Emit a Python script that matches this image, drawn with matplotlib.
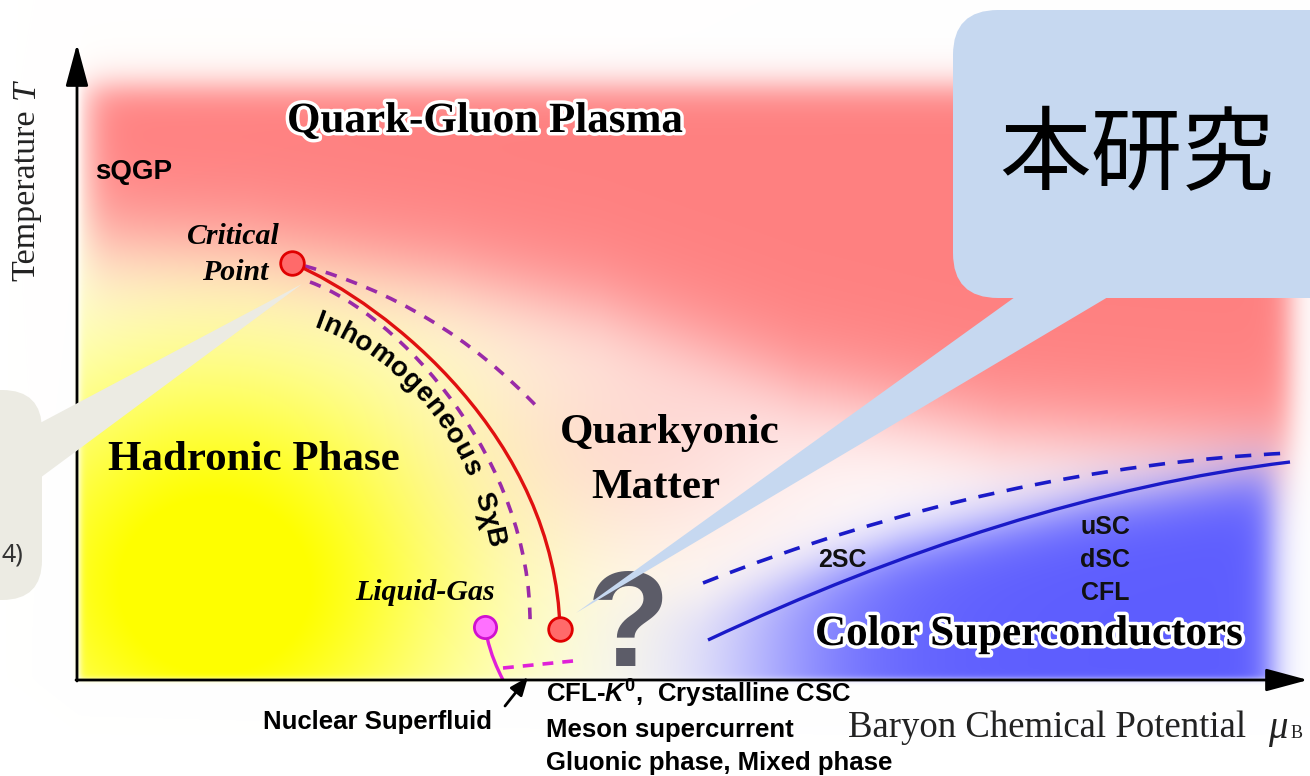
import numpy as np
import matplotlib
matplotlib.use("Agg")
import matplotlib.pyplot as plt
from matplotlib.path import Path
from matplotlib.patches import PathPatch, FancyBboxPatch, Polygon
import matplotlib.patheffects as pe
from matplotlib.textpath import TextToPath
from matplotlib.font_manager import FontProperties

plt.rcParams['mathtext.fontset'] = 'custom'
plt.rcParams['mathtext.rm'] = 'Liberation Sans:bold'
plt.rcParams['mathtext.it'] = 'Liberation Sans:italic:bold'
plt.rcParams['mathtext.bf'] = 'Liberation Sans:bold'

W, H = 1310, 776

# diagram geometry (pixel coordinates, y pointing down)
red_line = [(292, 263), (390, 305), (555, 440), (560, 629)]
inner_dash = [(310, 282), (400, 315), (532, 460), (530, 625)]
outer_dash = [(305, 266), (390, 290), (470, 335), (540, 410)]
lg_line = [(487, 637), (491, 655), (497, 668), (503, 680)]
csc_dash = [(703, 583), (900, 505), (1100, 462), (1290, 453)]
csc_solid = [(708, 640), (900, 550), (1100, 485), (1290, 462)]
sf_dash_x = [503, 573]
sf_dash_y = [668, 661]
sxb_path = [(316, 318), (402, 348), (484, 430), (502, 570)]

red_pts_x = [292, 560]
red_pts_y = [263, 629]
lg_pt = (485, 627)

csc_labels = ['uSC', 'dSC', 'CFL']
csc_label_y = [527, 560, 593]
low_labels = ['CFL-$K^0$,  Crystalline CSC', 'Meson supercurrent', 'Gluonic phase, Mixed phase']
low_label_y = [694, 730, 763]

blue_box = (953, 10, 420, 288)
blue_tail = [(1015, 297), (1108, 297), (576, 613)]
gray_box = (-60, 390, 102, 210)
gray_tail = [(40, 423), (40, 478), (302, 284)]


def sig(z):
    return 1.0 / (1.0 + np.exp(-z))


def over(img, col, a):
    a = np.clip(a, 0, 1)[..., None]
    return img * (1 - a) + np.array(col) / 255.0 * a


# background colour field
yy, xx = np.mgrid[0:H, 0:W] + 0.5
inside = sig((xx - 80) / 2) * sig((679 - yy) / 1.5)
img = np.ones((H, W, 3))
a_y = np.clip(1.15 * np.exp(-((xx - 215) / 255) ** 2 - ((yy - 585) / 235) ** 2), 0, 1) * inside
img = over(img, (255, 255, 0), a_y)
yb = np.interp(xx, [80, 250, 450, 600, 800, 1000, 1300], [240, 250, 280, 315, 390, 432, 455])
a_r = sig((yy - 86) / 10) * sig((xx - 88) / 10) * sig((yb - yy) / 28) * sig((1290 - xx) / 8) * inside
img = over(img, (255, 128, 128), a_r)
a_p = 0.32 * np.exp(-((xx - 640) / 170) ** 2 - ((yy - 440) / 120) ** 2) * inside
img = over(img, (255, 150, 150), a_p)
yblue = np.interp(xx, [700, 900, 1100, 1290], [605, 545, 500, 468])
a_b = 0.95 * sig((xx - 770) / 55) * sig((1272 - xx) / 9) * sig((yy - yblue) / 16) * inside
img = over(img, (85, 85, 255), a_b)

fig = plt.figure(figsize=(W / 100, H / 100), dpi=100)
ax = fig.add_axes([0, 0, 1, 1])
ax.set_xlim(0, W)
ax.set_ylim(H, 0)
ax.axis('off')
ax.imshow(img, extent=(0, W, H, 0), zorder=0, interpolation='bilinear')


def bezier(pts, **kw):
    codes = [Path.MOVETO, Path.CURVE4, Path.CURVE4, Path.CURVE4]
    ax.add_patch(PathPatch(Path(pts, codes), fill=False, capstyle='butt', **kw))


bezier(outer_dash, ec='#9a2aa8', lw=2.6, ls=(0, (3.2, 2.8)), zorder=3)
bezier(inner_dash, ec='#9a2aa8', lw=2.6, ls=(0, (3.2, 2.8)), zorder=3)
bezier(red_line, ec='#e01010', lw=2.4, zorder=4)
bezier(lg_line, ec='#e020d8', lw=2.4, zorder=4)
ax.plot(sf_dash_x, sf_dash_y, color='#e020d8', lw=2.6, ls=(0, (3, 2.5)), zorder=3)
bezier(csc_dash, ec='#1a1ac8', lw=2.6, ls=(0, (4.5, 3.5)), zorder=3)
bezier(csc_solid, ec='#1a1ac8', lw=2.4, zorder=3)

ax.plot(red_pts_x, red_pts_y, 'o', ms=17, mfc='#ff6a6a', mec='#e00000', mew=2, zorder=5)
ax.plot(*lg_pt, 'o', ms=16, mfc='#ff70ff', mec='#d010d0', mew=2, zorder=5)

# axes arrows
arr = dict(arrowstyle='-|>,head_length=2.6,head_width=0.7', lw=2, color='black', shrinkA=0, shrinkB=0)
ax.annotate('', xy=(77, 44), xytext=(77, 681), arrowprops=arr, zorder=6)
ax.annotate('', xy=(1308, 680), xytext=(76, 680), arrowprops=arr, zorder=6)
ax.annotate('', xy=(528, 677), xytext=(505, 706),
            arrowprops=dict(arrowstyle='-|>,head_length=1.1,head_width=0.45', lw=2,
                            color='black', shrinkA=0, shrinkB=0), zorder=6)

serif = 'Liberation Serif'
sans = 'Liberation Sans'
halo = [pe.withStroke(linewidth=5, foreground='white')]

ax.text(287, 122, 'Quark-Gluon Plasma', family=serif, weight='bold', size=31,
        va='center', ha='left', path_effects=halo, zorder=7)
ax.text(95, 172, 'sQGP', family=sans, weight='bold', size=20, va='center', zorder=7)
ax.text(280, 237, 'Critical', family=serif, weight='bold', style='italic', size=21.5,
        ha='right', va='center', zorder=7)
ax.text(268, 273, 'Point', family=serif, weight='bold', style='italic', size=21.5,
        ha='right', va='center', zorder=7)
ax.text(108, 460, 'Hadronic Phase', family=serif, weight='bold', size=31, va='center', zorder=7)
ax.text(670, 433, 'Quarkyonic', family=serif, weight='bold', size=31, ha='center', va='center', zorder=7)
ax.text(656, 488, 'Matter', family=serif, weight='bold', size=31, ha='center', va='center', zorder=7)
ax.text(495, 593, 'Liquid-Gas', family=serif, weight='bold', style='italic', size=21.5,
        ha='right', va='center', zorder=7)
ax.text(628, 666, '?', family=sans, weight='bold', size=98, color='#5c5c68',
        ha='center', va='baseline', zorder=6)
ax.text(818, 560, '2SC', family=sans, weight='bold', size=18, va='center', color='#111111', zorder=7)
for lab, y in zip(csc_labels, csc_label_y):
    ax.text(1105, y, lab, family=sans, weight='bold', size=18, ha='center', va='center',
            color='#111111', zorder=7)
ax.text(815, 635, 'Color Superconductors', family=serif, weight='bold', size=31, va='center',
        path_effects=halo, zorder=7)

ax.text(263, 722, 'Nuclear Superfluid', family=sans, weight='bold', size=18.5, va='center', zorder=7)
for lab, y in zip(low_labels, low_label_y):
    ax.text(546, y, lab, family=sans, weight='bold', size=18.5, va='center', zorder=7)
ax.text(848, 728, 'Baryon Chemical Potential', family=serif, size=26.5, va='center', color='#222222', zorder=7)
ax.text(1268, 738, 'μ', family=serif, style='italic', size=28, va='baseline', color='#222222', zorder=7)
ax.text(1291, 738, 'B', family=serif, size=13, va='baseline', color='#222222', zorder=7)

ax.text(26, 281, 'Temperature', family=serif, size=24.5, rotation=90, ha='center', va='bottom',
        color='#222222', zorder=7)
ax.text(26, 99, 'T', family=serif, style='italic', size=24.5, rotation=90, ha='center', va='bottom',
        color='#222222', zorder=7)

# curved label along the chiral line
prop = FontProperties(family=sans, weight='bold', size=20)
ttp = TextToPath()
tt = np.linspace(0, 1, 800)[:, None]
p = np.array(sxb_path, float)
curve = ((1 - tt) ** 3 * p[0] + 3 * (1 - tt) ** 2 * tt * p[1]
         + 3 * (1 - tt) * tt ** 2 * p[2] + tt ** 3 * p[3])
seg = np.hypot(*np.diff(curve, axis=0).T)
arc = np.concatenate([[0], np.cumsum(seg)])
pos = 0.0
for ch in 'Inhomogeneous SχB':
    w = ttp.get_text_width_height_descent(ch, prop, ismath=False)[0] * 100 / 72
    if ch == ' ':
        w = 18
    c = pos + w / 2
    i = min(np.searchsorted(arc, c), len(arc) - 2)
    x, y = curve[i]
    dx, dy = curve[i + 1] - curve[i]
    ang = np.degrees(np.arctan2(-dy, dx))
    if ch != ' ':
        ax.text(x, y, ch, fontproperties=prop, rotation=ang, rotation_mode='anchor',
                ha='center', va='center_baseline', zorder=7)
    pos += w + 1.2

# callouts
ax.add_patch(Polygon(gray_tail, closed=True, fc='#ecebe3', ec='none', zorder=8))
ax.add_patch(FancyBboxPatch(gray_box[:2], gray_box[2], gray_box[3],
                            boxstyle='round,pad=0,rounding_size=40', fc='#ecebe3', ec='none', zorder=8))
ax.text(2, 555, '4)', family='Noto Sans', size=18, ha='left', va='center', color='#333333', zorder=9)

ax.add_patch(Polygon(blue_tail, closed=True, fc='#c6d8f0', ec='none', zorder=8))
ax.add_patch(FancyBboxPatch(blue_box[:2], blue_box[2], blue_box[3],
                            boxstyle='round,pad=0,rounding_size=45', fc='#c6d8f0', ec='none', zorder=8))
ax.text(1137, 157, '本研究', family=['Noto Sans CJK JP', 'DejaVu Sans'], size=66,
        ha='center', va='center', color='black', zorder=9)

fig.savefig('out.png', dpi=100)
